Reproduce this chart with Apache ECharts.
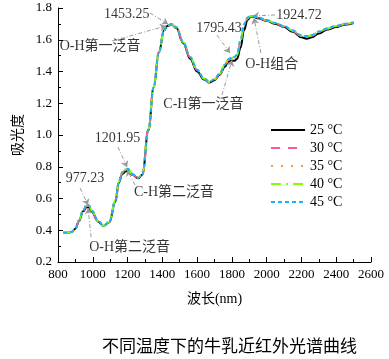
<!DOCTYPE html>
<html><head><meta charset="utf-8">
<script src="https://cdn.jsdelivr.net/npm/echarts@6/dist/echarts.min.js"></script>
<style>html,body{margin:0;padding:0;background:#fff}#c{width:389px;height:359px}</style>
</head><body><div id="c"></div>
<script>
const wavelengths = [830,860,880,900,920,945,965,977,995,1030,1062,1095,1130,1150,1170,1190,1202,1230,1262,1285,1320,1350,1380,1410,1430,1453,1480,1520,1560,1600,1640,1670,1700,1730,1760,1780,1795,1815,1830,1850,1870,1890,1910,1925,1950,2000,2050,2100,2150,2200,2230,2260,2300,2350,2400,2450,2500];
const t25 = [0.385,0.385,0.39,0.41,0.455,0.52,0.545,0.545,0.515,0.455,0.427,0.45,0.58,0.70,0.755,0.772,0.775,0.748,0.727,0.75,1.03,1.30,1.52,1.66,1.688,1.695,1.675,1.58,1.48,1.40,1.35,1.33,1.345,1.38,1.43,1.462,1.468,1.468,1.48,1.55,1.66,1.725,1.745,1.745,1.735,1.72,1.70,1.68,1.65,1.615,1.607,1.615,1.64,1.665,1.68,1.695,1.705];
const t30 = [0.385,0.385,0.39,0.41,0.458,0.525,0.555,0.553,0.52,0.457,0.428,0.452,0.585,0.705,0.762,0.78,0.783,0.75,0.728,0.752,1.035,1.30,1.52,1.66,1.69,1.697,1.677,1.585,1.49,1.41,1.355,1.333,1.35,1.385,1.44,1.472,1.482,1.488,1.502,1.59,1.69,1.735,1.748,1.747,1.738,1.722,1.703,1.684,1.655,1.622,1.618,1.625,1.648,1.67,1.685,1.698,1.707];
const t35 = [0.385,0.385,0.39,0.41,0.46,0.527,0.558,0.556,0.522,0.458,0.429,0.453,0.586,0.706,0.764,0.782,0.785,0.751,0.729,0.753,1.035,1.30,1.52,1.661,1.69,1.698,1.678,1.586,1.49,1.41,1.356,1.334,1.35,1.386,1.442,1.475,1.485,1.49,1.505,1.595,1.695,1.738,1.748,1.748,1.739,1.723,1.704,1.685,1.657,1.625,1.621,1.627,1.65,1.671,1.686,1.699,1.708];
const t40 = [0.385,0.385,0.39,0.41,0.46,0.528,0.559,0.557,0.523,0.458,0.429,0.453,0.587,0.707,0.765,0.783,0.786,0.752,0.73,0.754,1.036,1.30,1.52,1.661,1.69,1.698,1.678,1.586,1.49,1.41,1.356,1.334,1.351,1.387,1.443,1.476,1.486,1.491,1.506,1.597,1.697,1.739,1.749,1.748,1.739,1.723,1.704,1.685,1.658,1.626,1.622,1.628,1.651,1.672,1.687,1.7,1.709];
const t45 = [0.385,0.385,0.39,0.41,0.461,0.529,0.56,0.558,0.524,0.459,0.43,0.454,0.588,0.708,0.766,0.784,0.787,0.753,0.731,0.755,1.037,1.30,1.52,1.662,1.691,1.699,1.679,1.587,1.491,1.411,1.357,1.335,1.352,1.388,1.444,1.477,1.487,1.492,1.507,1.598,1.698,1.74,1.75,1.749,1.74,1.724,1.705,1.686,1.659,1.627,1.623,1.629,1.652,1.673,1.688,1.701,1.71];
const seriesNames = ['25 °C','30 °C','35 °C','40 °C','45 °C'];
const xTicks = [800,1000,1200,1400,1600,1800,2000,2200,2400,2600];
const yTicks = [0.2,0.4,0.6,0.8,1.0,1.2,1.4,1.6,1.8];
const noteTexts = ['1453.25','O-H第一泛音','1795.43','C-H第一泛音','1924.72','O-H组合','1201.95','C-H第二泛音','977.23','O-H第二泛音'];
const noteX = [1195,1042,1726,1636,2186,2029,1142,1467,955,1212];
const noteY = [1.760,1.556,1.672,1.193,1.756,1.445,0.979,0.637,0.727,0.290];
const arrowFrom = [[1329,1.768],[1111,1.592],[1714,1.630],[1743,1.252],[2048,1.756],[1967,1.517],[1145,0.924],[1243,0.685],[927,0.666],[990,0.357]];
const arrowTo = [[1433,1.699],[1421,1.687],[1789,1.517],[1801,1.472],[1921,1.75],[1927,1.737],[1197,0.798],[1197,0.78],[973,0.559],[973,0.54]];

const FONT = '"Liberation Serif","Noto Sans CJK SC",serif';
const allVals = [t25,t30,t35,t40,t45];
const colors = ['#000000','#ff5a8c','#ff9933','#80ff00','#1ab2ff'];
const dashes = ['solid',[9,8],[2,8],[10,5,2,5],[4,3]];

const chart = echarts.init(document.getElementById('c'), null, {renderer:'canvas'});
const series = seriesNames.map((n,i)=>({
  name:n, type:'line', symbol:'none', smooth:0.4, smoothMonotone:'x',
  data: wavelengths.map((w,j)=>[w, allVals[i][j]]),
  lineStyle:{color:colors[i], width:2, type:dashes[i]},
  itemStyle:{color:colors[i]},
  emphasis:{disabled:true}, z: 2+i
}));
series.push({
  name:'arrows', type:'line', data:[], symbol:'none', silent:true, z:10,
  markLine:{
    silent:true, animation:false, symbol:['none','arrow'], symbolSize:6,
    label:{show:false},
    lineStyle:{color:'#9a9a9a', width:1, type:[4,2,1,2]},
    data: arrowFrom.map((f,i)=>[{coord:f},{coord:arrowTo[i]}])
  }
});
series.push({
  name:'notes', type:'scatter', symbolSize:0, silent:true, z:11,
  data: noteTexts.map((t,i)=>({value:[noteX[i], noteY[i]], name:t})),
  label:{show:true, position:'inside', formatter:p=>p.name, color:'#000', fontSize:14, fontFamily:FONT}
});

chart.setOption({
  animation:false,
  backgroundColor:'#fff',
  title:{text:'不同温度下的牛乳近红外光谱曲线', left:97, top:332,
    textStyle:{fontSize:17, fontWeight:'normal', color:'#000', fontFamily:'"Noto Sans CJK SC",sans-serif'}},
  grid:{left:58, right:18, top:8, bottom:97, containLabel:false},
  legend:{data:seriesNames, orient:'vertical', left:265, top:118, itemWidth:34, itemHeight:14, itemGap:4,
    itemStyle:{opacity:0},
    textStyle:{fontSize:14, color:'#000', fontFamily:FONT}},
  xAxis:{type:'value', min:xTicks[0], max:xTicks[xTicks.length-1], interval:200,
    name:'波长(nm)', nameLocation:'middle', nameGap:30,
    nameTextStyle:{fontSize:14, color:'#000', fontFamily:FONT},
    axisLine:{lineStyle:{color:'#000', width:1}},
    axisTick:{inside:true, length:5, lineStyle:{color:'#000'}},
    minorTick:{show:true, splitNumber:2, length:3, lineStyle:{color:'#000'}},
    axisLabel:{fontSize:13, color:'#000', fontFamily:FONT, margin:6, formatter:v=>String(v)},
    splitLine:{show:false}},
  yAxis:{type:'value', min:yTicks[0], max:yTicks[yTicks.length-1], interval:0.2,
    name:'吸光度', nameLocation:'middle', nameGap:32, nameRotate:90,
    nameTextStyle:{fontSize:14, color:'#000', fontFamily:FONT},
    axisLine:{show:true, lineStyle:{color:'#000', width:1}},
    axisTick:{show:true, inside:true, length:5, lineStyle:{color:'#000'}},
    minorTick:{show:true, splitNumber:2, length:3, lineStyle:{color:'#000'}},
    axisLabel:{fontSize:13, color:'#000', fontFamily:FONT, margin:6, formatter:v=>v.toFixed(1)},
    splitLine:{show:false}},
  series
});
</script></body></html>
